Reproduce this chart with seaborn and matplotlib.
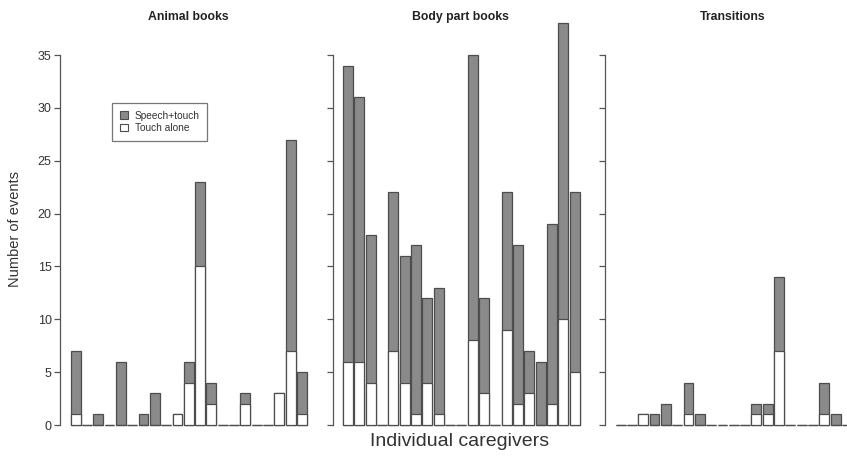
import matplotlib
matplotlib.use("Agg")
import numpy as np
import pandas as pd
import seaborn as sns
from matplotlib import pyplot as plt
from matplotlib.patches import Patch

# Caregiver slots (21 per panel)
caregivers = list(range(21))

# Totals (speech+touch stacked on touch alone) and touch-alone counts
animal_total = [7, 0, 1, 0, 6, 0, 1, 3, 0, 1, 6, 23, 4, 0, 0, 3, 0, 0, 3, 27, 5]
animal_touch = [1, 0, 0, 0, 0, 0, 0, 0, 0, 1, 4, 15, 2, 0, 0, 2, 0, 0, 3, 7, 1]

body_total = [34, 31, 18, 0, 22, 16, 17, 12, 13, 0, 0, 35, 12, 0, 22, 17, 7, 6, 19, 38, 22]
body_touch = [6, 6, 4, 0, 7, 4, 1, 4, 1, 0, 0, 8, 3, 0, 9, 2, 3, 0, 2, 10, 5]

trans_total = [0, 0, 1, 1, 2, 0, 4, 1, 0, 0, 0, 0, 2, 2, 14, 0, 0, 0, 4, 1, 0]
trans_touch = [0, 0, 1, 0, 0, 0, 1, 0, 0, 0, 0, 0, 1, 1, 7, 0, 0, 0, 1, 0, 0]

titles = ["Animal books", "Body part books", "Transitions"]
panels = [(animal_total, animal_touch), (body_total, body_touch), (trans_total, trans_touch)]

GRAY = "#8a8a8a"
EDGE = "#4d4d4d"
TEXT = "#333333"

sns.set_style("white")
plt.rcParams["font.family"] = ["Liberation Sans", "DejaVu Sans"]

W, H = 847, 457
fig = plt.figure(figsize=(W / 100, H / 100), dpi=100)

slot_px = 11.33
x_lo, x_hi = -1.37, 20.6
y_lo, y_hi = -0.3, 38.6
px_per_unit = 10.57
y0_px = 425
ax_w = (x_hi - x_lo) * slot_px / W
ax_h = (y_hi - y_lo) * px_per_unit / H
ax_b = (H - (y0_px - y_lo * px_per_unit)) / H
lefts = [60, 332.5, 605]

axes = []
for i, (left, (tot, tch), title) in enumerate(zip(lefts, panels, titles)):
    ax = fig.add_axes([left / W, ax_b, ax_w, ax_h])
    df = pd.DataFrame({"caregiver": caregivers, "total": tot, "touch": tch})
    sns.barplot(data=df, x="caregiver", y="total", ax=ax, color=GRAY, saturation=1,
                width=0.88, edgecolor=EDGE, linewidth=0.9, errorbar=None, native_scale=True)
    sns.barplot(data=df, x="caregiver", y="touch", ax=ax, color="white", saturation=1,
                width=0.88, edgecolor=EDGE, linewidth=0.9, errorbar=None, native_scale=True)
    for p in ax.patches:
        p.set_clip_on(False)
    ax.set_xlim(x_lo, x_hi)
    ax.set_ylim(y_lo, y_hi)
    ax.set_xlabel("")
    ax.set_ylabel("")
    ax.set_xticks([])
    ax.set_yticks(np.arange(0, 36, 5))
    for s in ["top", "right", "bottom"]:
        ax.spines[s].set_visible(False)
    ax.spines["left"].set_bounds(0, 35)
    ax.spines["left"].set_color("#555555")
    ax.spines["left"].set_linewidth(0.9)
    ax.tick_params(axis="y", left=True, length=4, width=0.9, color="#555555",
                   labelsize=9, labelcolor=TEXT, pad=2)
    if i > 0:
        ax.set_yticklabels([])
    ax.patch.set_alpha(0)
    axes.append(ax)

title_x = [188, 460, 733]
for tx, title in zip(title_x, titles):
    fig.text(tx / W, 1 - 17 / H, title, ha="center", va="center",
             fontsize=8.8, fontweight="bold", color="#222222")

fig.text(15 / W, 1 - 229 / H, "Number of events", rotation=90, ha="center", va="center",
         fontsize=10.5, color=TEXT)
fig.text(460 / W, 1 - 442 / H, "Individual caregivers", ha="center", va="center",
         fontsize=14, color=TEXT)

handles = [Patch(facecolor=GRAY, edgecolor=EDGE, linewidth=0.8, label="Speech+touch"),
           Patch(facecolor="white", edgecolor=EDGE, linewidth=0.8, label="Touch alone")]
leg = axes[0].legend(handles=handles, loc="upper left",
                     bbox_to_anchor=((112 - 60) / (ax_w * W), 1 - (103 - (H - (ax_b + ax_h) * H)) / (ax_h * H)),
                     fontsize=7.3, frameon=True, fancybox=False, handlelength=0.8, handleheight=0.8,
                     handletextpad=0.7, borderpad=0.75, labelspacing=0.25, borderaxespad=0)
leg.get_frame().set_edgecolor("#555555")
leg.get_frame().set_linewidth(0.9)
for t in leg.get_texts():
    t.set_color(TEXT)

fig.savefig("out.png", dpi=100)
